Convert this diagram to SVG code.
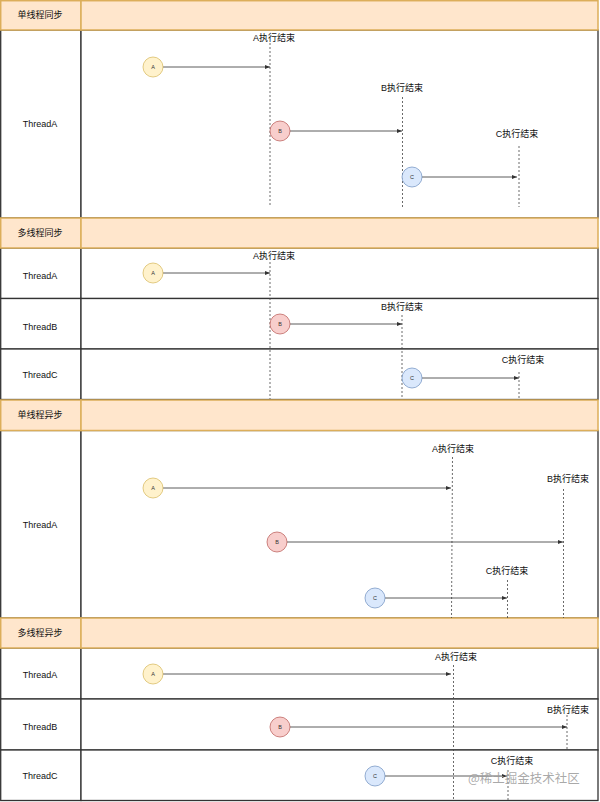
<svg xmlns="http://www.w3.org/2000/svg" width="600" height="802" viewBox="0 0 600 802">
<defs>
<marker id="arr" viewBox="0 0 10 10" refX="10" refY="5" markerWidth="5" markerHeight="5" markerUnits="userSpaceOnUse" orient="auto">
<path d="M0,1 L10,5 L0,9 Z" fill="#333"/>
</marker>
<style>
.hdr{fill:#ffe6cc;stroke:#dcae5a;stroke-width:1.5}
.cell{fill:#fff;stroke:#333;stroke-width:1.3}
.t{font-family:"Liberation Sans","Noto Sans CJK SC",sans-serif;font-size:9px;fill:#111;text-anchor:middle;dominant-baseline:central}
.c{font-family:"Liberation Sans",sans-serif;font-size:5.5px;fill:#333;text-anchor:middle;dominant-baseline:central}
.ca{fill:#fff2cc;stroke:#d6b656;stroke-width:0.7}
.cb{fill:#f8cecc;stroke:#b85450;stroke-width:0.7}
.cc{fill:#dae8fc;stroke:#6c8ebf;stroke-width:0.7}
.ar{stroke:#333;stroke-width:0.8;fill:none;marker-end:url(#arr)}
.dl{stroke:#444;stroke-width:0.8;stroke-dasharray:2 2;fill:none}
.wm{font-family:"Noto Sans CJK SC","Liberation Sans",sans-serif;font-size:12.5px;fill:#9a9a9a;fill-opacity:0.85}
</style>
</defs>

<g id="section1">
<rect class="cell" x="0.7" y="30" width="80.3" height="188"/>
<rect class="cell" x="81" y="30" width="517" height="188"/>
<rect class="hdr" x="0.7" y="0.7" width="80.3" height="29.3"/>
<rect class="hdr" x="81" y="0.7" width="517" height="29.3"/>
<text class="t" x="40" y="15">单线程同步</text>
<text class="t" x="40" y="124">ThreadA</text>
</g>

<g id="section2">
<rect class="cell" x="0.7" y="248" width="80.3" height="50.5"/>
<rect class="cell" x="81" y="248" width="517" height="50.5"/>
<rect class="cell" x="0.7" y="298.5" width="80.3" height="50.5"/>
<rect class="cell" x="81" y="298.5" width="517" height="50.5"/>
<rect class="cell" x="0.7" y="349" width="80.3" height="50.5"/>
<rect class="cell" x="81" y="349" width="517" height="50.5"/>
<rect class="hdr" x="0.7" y="218" width="80.3" height="30"/>
<rect class="hdr" x="81" y="218" width="517" height="30"/>
<text class="t" x="40" y="233">多线程同步</text>
<text class="t" x="40" y="276">ThreadA</text>
<text class="t" x="40" y="327">ThreadB</text>
<text class="t" x="40" y="375">ThreadC</text>
</g>

<g id="section3">
<rect class="cell" x="0.7" y="430.5" width="80.3" height="187.5"/>
<rect class="cell" x="81" y="430.5" width="517" height="187.5"/>
<rect class="hdr" x="0.7" y="400" width="80.3" height="30.5"/>
<rect class="hdr" x="81" y="400" width="517" height="30.5"/>
<text class="t" x="40" y="415">单线程异步</text>
<text class="t" x="40" y="525">ThreadA</text>
</g>

<g id="section4">
<rect class="cell" x="0.7" y="648" width="80.3" height="51"/>
<rect class="cell" x="81" y="648" width="517" height="51"/>
<rect class="cell" x="0.7" y="699" width="80.3" height="51"/>
<rect class="cell" x="81" y="699" width="517" height="51"/>
<rect class="cell" x="0.7" y="750" width="80.3" height="50.5"/>
<rect class="cell" x="81" y="750" width="517" height="50.5"/>
<rect class="hdr" x="0.7" y="618" width="80.3" height="30"/>
<rect class="hdr" x="81" y="618" width="517" height="30"/>
<text class="t" x="40" y="633">多线程异步</text>
<text class="t" x="40" y="675">ThreadA</text>
<text class="t" x="40" y="727">ThreadB</text>
<text class="t" x="40" y="776">ThreadC</text>
</g>

<g id="endlines">
<line class="dl" x1="270" y1="43" x2="270" y2="207"/>
<line class="dl" x1="402.5" y1="97" x2="402.5" y2="207"/>
<line class="dl" x1="519" y1="146" x2="519" y2="207"/>
<line class="dl" x1="270" y1="262" x2="270" y2="399"/>
<line class="dl" x1="402" y1="315" x2="402" y2="399"/>
<line class="dl" x1="519" y1="372" x2="519" y2="399"/>
<line class="dl" x1="452.5" y1="457" x2="451.5" y2="618"/>
<line class="dl" x1="563.5" y1="489" x2="563.5" y2="618"/>
<line class="dl" x1="507.5" y1="580" x2="507.5" y2="618"/>
<line class="dl" x1="453.5" y1="665" x2="453.5" y2="800"/>
<line class="dl" x1="567" y1="715" x2="567" y2="750"/>
<line class="dl" x1="508" y1="770" x2="508" y2="800"/>
</g>

<g id="endlabels">
<text class="t" x="274" y="38">A执行结束</text>
<text class="t" x="402" y="88">B执行结束</text>
<text class="t" x="517" y="134">C执行结束</text>
<text class="t" x="274" y="256">A执行结束</text>
<text class="t" x="402" y="307">B执行结束</text>
<text class="t" x="523" y="360">C执行结束</text>
<text class="t" x="453" y="449">A执行结束</text>
<text class="t" x="568" y="479">B执行结束</text>
<text class="t" x="507" y="571">C执行结束</text>
<text class="t" x="456" y="657">A执行结束</text>
<text class="t" x="568" y="710">B执行结束</text>
<text class="t" x="512" y="761">C执行结束</text>
</g>

<g id="connectors">
<line class="ar" x1="163" y1="67" x2="270" y2="67"/>
<line class="ar" x1="290" y1="131" x2="402" y2="131"/>
<line class="ar" x1="422" y1="177" x2="517" y2="177"/>
<line class="ar" x1="163" y1="273" x2="270" y2="273"/>
<line class="ar" x1="290" y1="324" x2="402" y2="324"/>
<line class="ar" x1="422" y1="378" x2="519" y2="378"/>
<line class="ar" x1="163" y1="488" x2="451" y2="488"/>
<line class="ar" x1="287" y1="542" x2="563" y2="542"/>
<line class="ar" x1="385" y1="598" x2="507" y2="598"/>
<line class="ar" x1="163" y1="674" x2="451" y2="674"/>
<line class="ar" x1="290" y1="727" x2="567" y2="727"/>
<line class="ar" x1="385" y1="776" x2="507" y2="776"/>
</g>

<g id="s1-A"><circle class="ca" cx="153" cy="67" r="10"/><text class="c" x="153" y="67">A</text></g>
<g id="s1-B"><circle class="cb" cx="280" cy="131" r="10"/><text class="c" x="280" y="131">B</text></g>
<g id="s1-C"><circle class="cc" cx="412" cy="177" r="10"/><text class="c" x="412" y="177">C</text></g>
<g id="s2-A"><circle class="ca" cx="153" cy="273" r="10"/><text class="c" x="153" y="273">A</text></g>
<g id="s2-B"><circle class="cb" cx="280" cy="324" r="10"/><text class="c" x="280" y="324">B</text></g>
<g id="s2-C"><circle class="cc" cx="412" cy="378" r="10"/><text class="c" x="412" y="378">C</text></g>
<g id="s3-A"><circle class="ca" cx="153" cy="488" r="10"/><text class="c" x="153" y="488">A</text></g>
<g id="s3-B"><circle class="cb" cx="277" cy="542" r="10"/><text class="c" x="277" y="542">B</text></g>
<g id="s3-C"><circle class="cc" cx="375" cy="598" r="10"/><text class="c" x="375" y="598">C</text></g>
<g id="s4-A"><circle class="ca" cx="153" cy="674" r="10"/><text class="c" x="153" y="674">A</text></g>
<g id="s4-B"><circle class="cb" cx="280" cy="727" r="10"/><text class="c" x="280" y="727">B</text></g>
<g id="s4-C"><circle class="cc" cx="375" cy="776" r="10"/><text class="c" x="375" y="776">C</text></g>

<text class="wm" x="468" y="783">@稀土掘金技术社区</text>
</svg>
